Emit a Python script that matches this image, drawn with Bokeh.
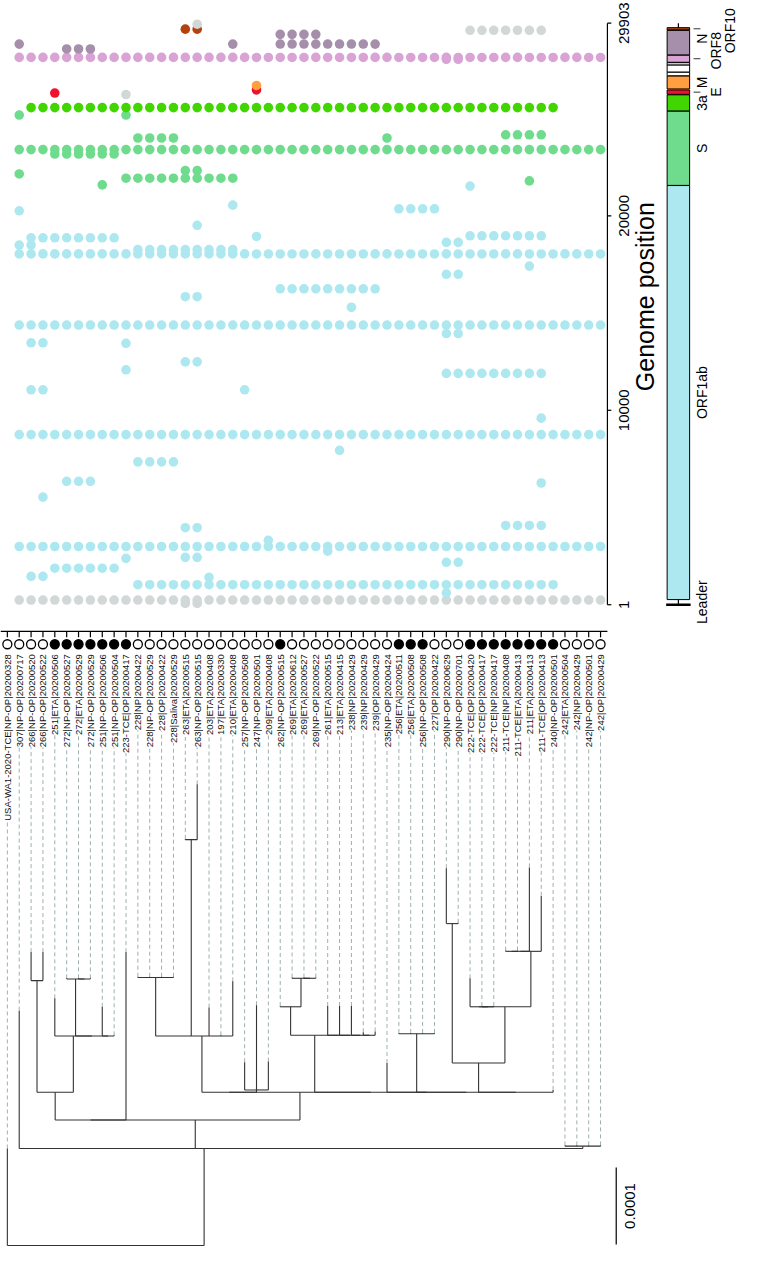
import math
from bokeh.plotting import figure
from bokeh.models import Range1d
from bokeh.embed import file_html
from bokeh.resources import INLINE
from bokeh.core.properties import value

# ---------------- data ----------------
TIP_LABELS = [
    "USA-WA1-2020-TCE|NP-OP|20200328", "307|NP-OP|20200717", "266|NP-OP|20200520", "266|NP-OP|20200522",
    "251|ETA|20200506", "272|NP-OP|20200527", "272|ETA|20200529", "272|NP-OP|20200529", "251|NP-OP|20200506",
    "251|NP-OP|20200504", "223-TCE|OP|20200417", "228|NP|20200422", "228|NP-OP|20200529", "228|OP|20200422",
    "228|Saliva|20200529", "263|ETA|20200515", "263|NP-OP|20200515", "203|ETA|20200408", "197|ETA|20200330",
    "210|ETA|20200408", "257|NP-OP|20200508", "247|NP-OP|20200501", "209|ETA|20200408", "262|NP-OP|20200515",
    "269|ETA|20200612", "269|ETA|20200527", "269|NP-OP|20200522", "261|ETA|20200515", "213|ETA|20200415",
    "238|NP|20200429", "239|NP|20200429", "239|OP|20200429", "235|NP-OP|20200424", "256|ETA|20200511",
    "256|ETA|20200508", "256|NP-OP|20200508", "227|OP|20200422", "290|NP-OP|20200629", "290|NP-OP|20200701",
    "222-TCE|OP|20200420", "222-TCE|OP|20200417", "222-TCE|NP|20200417", "211-TCE|NP|20200408",
    "211-TCE|ETA|20200413", "211|ETA|20200413", "211-TCE|OP|20200413", "240|NP-OP|20200501",
    "242|ETA|20200504", "242|NP|20200429", "242|NP-OP|20200501", "242|OP|20200429"]
TIP_FILLED = [0, 0, 0, 0, 1, 1, 1, 1, 1, 1, 1, 0, 0, 0, 0, 0, 0, 0, 0, 0, 0, 0, 0, 1, 0, 0,
              0, 0, 0, 0, 0, 0, 0, 1, 1, 1, 0, 0, 0, 1, 1, 1, 1, 1, 1, 1, 1, 0, 0, 0, 0]

# tree (Newick pieces), branch lengths in 1e-6 substitutions/site, tips named t<index>
CLADE_G = "(t4:49,((t5:1,(t6:1,t7:1):0):74,(t8:38,t9:1):0):0)"
CLADE_D = "((t2:37,t3:37):145," + CLADE_G + ":73)"
CLADE_E = "((t11:1,t12:1,t13:1,t14:1):76,(t15:1,t16:72):255,t17:37,t18:1,t19:71)"
CLADE_K = "(t20:36,t21:110,t22:37)"
CLADE_M = "(t23:1,(t24:1,(t25:1,t26:1):0):37)"
CLADE_L = "(" + CLADE_M + ":37,(t27:38,(t28:38,(t29:38,(t30:4,t31:5):0):0):0):0)"
CLADE_Q = "(t33:1,t34:1,t35:1,t36:1)"
CLADE_V = "(((t42:1,t43:1):0,t44:109):0,t45:72)"
CLADE_U = "((t39:37,(t40:1,t41:1):0):0," + CLADE_V + ":72)"
CLADE_S = "((t37:72,t38:1):181," + CLADE_U + ":73)"
CLADE_C = ("((" + CLADE_E + ":73," + CLADE_K + ":3):0,(" + CLADE_L + ":74,(t32:38,(" + CLADE_Q +
           ":76,(" + CLADE_S + ":38,t46:3):0):0):0):0)")
CLADE_A = "((" + CLADE_D + ":36,t10:218):0," + CLADE_C + ":36)"
CLADE_F = "(t47:1,t48:1,t49:1,t50:1)"
CLADE_B = "(t1:179,(" + CLADE_A + ":37," + CLADE_F + ":3):0)"
TREE_NEWICK = "(t0:126," + CLADE_B + ":126);"
SCALE_BAR = 100          # 1e-6 units -> 0.0001
SCALE_LABEL = "0.0001"

GENE_NAMES = ["ORF1ab", "S", "3a", "E", "M", "ORF6", "ORF7a", "ORF7b", "ORF8", "N", "ORF10"]
GENE_START = [266, 21563, 25393, 26245, 26523, 27202, 27394, 27756, 27894, 28274, 29558]
GENE_END = [21555, 25384, 26220, 26472, 27191, 27387, 27759, 27887, 28259, 29533, 29674]
GENE_COLORS = ["#ade8f0", "#6edc8c", "#42d600", "#f0112d", "#ff9f3f", "#ffffff", "#ffffff",
               "#c8c8c8", "#d9a3d6", "#a58fab", "#b3420f"]
NONCODING_COLOR = "#d2d8d8"
GENOME_LEN = 29903
GENOME_TICKS = [1, 10000, 20000, 29903]

ALL = list(range(1, 51))
MUT_POS = [29852, 29598, 29540, 29329, 28830, 28580, 28144, 28050, 26704, 26470, 26313, 26235,
           25563, 25180, 24166, 24000, 23403, 23176, 22323, 22151, 21932, 21795, 21592, 21526,
           20547, 20359, 20257, 19511, 18972, 18937, 18870, 18633, 18497, 18262, 18040, 17414,
           16993, 16246, 15840, 15298, 14384, 13947, 13470, 13438, 12489, 12083, 11896, 11052,
           9596, 8749, 7937, 7348, 6347, 6261, 5535, 4078, 3961, 3316, 2996, 2758, 2438, 2387,
           2184, 1879, 1458, 1407, 1032, 610, 241, 67]
MUT_TIPS = [
    [16], [15, 16], [39, 40, 41, 42, 43, 44, 45], [23, 24, 25, 26],
    [1, 19, 23, 24, 25, 26, 27, 28, 29, 30, 31], [5, 6, 7], ALL, [37, 38], [21], [21], [4], [10],
    list(range(2, 47)), [1, 10], [42, 43, 44, 45], [11, 12, 13, 14, 32], ALL, [4, 5, 6, 7, 8, 9],
    [15, 16], [1], list(range(10, 20)), [44], [8], [39],
    [19], [33, 34, 35, 36], [1], [16], [39, 40, 41, 42, 43, 44, 45], [21], [2, 3, 4, 5, 6, 7, 8, 9],
    [37, 38], [1, 2], list(range(11, 20)), ALL, [44],
    [37, 38], list(range(23, 32)), [15, 16], [29], ALL, [37, 38], [2, 3], [10], [15, 16], [10],
    list(range(37, 46)), [2, 3, 20],
    [45], ALL, [28], [11, 12, 13, 14], [5, 6, 7], [45], [3], [42, 43, 44, 45], [15, 16], [22], ALL,
    [27], [15, 16], [10],
    [37, 38], [4, 5, 6, 7, 8, 9], [2, 3], [17], list(range(11, 47)), [37], ALL, [15, 16]]

# ---------------- layout constants (reference pixel frame) ----------------
W, H = 742, 1246
REF_W, REF_H = 758, 1262
TIP0, TIP_STEP = 7.0, 12.12
G_Y1, G_YTOP = 612.0, 23.0
ROOT_Y, PX_PER_UNIT = 1261.0, 0.78
FONT = value("Liberation Sans")


def g_at(ref_y):
    return 1 + (G_Y1 - ref_y) * (GENOME_LEN - 1) / (G_Y1 - G_YTOP)


def d_at(ref_y):
    return (ROOT_Y - ref_y) / PX_PER_UNIT


def gene_color(pos):
    for s, e, c in zip(GENE_START, GENE_END, GENE_COLORS):
        if s <= pos <= e:
            return c
    return NONCODING_COLOR


# ---------------- tree parsing / layout ----------------
def parse_newick(s):
    pos = 0

    def node():
        nonlocal pos
        n = {"children": [], "name": "", "len": 0.0}
        if s[pos] == "(":
            pos += 1
            while True:
                n["children"].append(node())
                if s[pos] == ",":
                    pos += 1
                elif s[pos] == ")":
                    pos += 1
                    break
                else:
                    raise ValueError("bad newick at %d" % pos)
        start = pos
        while pos < len(s) and s[pos] not in ",();":
            pos += 1
        tok = s[start:pos]
        if ":" in tok:
            nm, ln = tok.split(":")
            n["name"], n["len"] = nm, float(ln)
        else:
            n["name"] = tok
        return n

    return node()


root = parse_newick(TREE_NEWICK)
root["len"] = 0.0


def layout(n, depth):
    n["depth"] = depth + n["len"]
    if n["children"]:
        for c in n["children"]:
            layout(c, n["depth"])
        n["x"] = sum(c["x"] for c in n["children"]) / len(n["children"])
    else:
        n["x"] = float(n["name"][1:])


layout(root, 0.0)
tip_depth = {}
vx, vy0, vy1 = [], [], []
hx0, hx1, hy = [], [], []


def collect(n, parent_depth):
    if parent_depth is not None and n["len"] > 0:
        vx.append(n["x"]); vy0.append(parent_depth); vy1.append(n["depth"])
    if n["children"]:
        xs = [c["x"] for c in n["children"]]
        hx0.append(min(xs)); hx1.append(max(xs)); hy.append(n["depth"])
        for c in n["children"]:
            collect(c, n["depth"])
    else:
        tip_depth[int(n["name"][1:])] = n["depth"]


collect(root, None)

# ---------------- figure ----------------
p = figure(width=W, height=H, output_backend="svg", toolbar_location=None,
           x_range=Range1d((0 - TIP0) / TIP_STEP, (REF_W - TIP0) / TIP_STEP),
           y_range=Range1d(g_at(REF_H), g_at(0)),
           x_axis_location=None, y_axis_location=None, min_border=0,
           outline_line_color=None, background_fill_color="white", border_fill_color="white")
p.grid.visible = False
p.extra_y_ranges = {"tree": Range1d(d_at(REF_H), d_at(0)), "py": Range1d(REF_H, 0)}
p.extra_x_ranges = {"px": Range1d(0, REF_W)}

# mutation dots (drawn in increasing genome position)
rows = sorted(zip(MUT_POS, MUT_TIPS), key=lambda r: r[0])
mx, my, mc = [], [], []
for pos, tips in rows:
    for t in tips:
        mx.append(t); my.append(pos); mc.append(gene_color(pos))
p.scatter(x=mx, y=my, size=9.6, fill_color=mc, line_color=None)

# genome axis (right of dot panel)
AX_X = 620
nt = len(GENOME_TICKS)
p.segment(x0=[AX_X], x1=[AX_X], y0=[GENOME_TICKS[0]], y1=[GENOME_TICKS[-1]],
          x_range_name="px", line_color="black", line_width=1.2)
p.segment(x0=[AX_X] * nt, x1=[AX_X + 4] * nt, y0=GENOME_TICKS, y1=GENOME_TICKS,
          x_range_name="px", line_color="black", line_width=1.2)
p.text(x=[AX_X + 17] * nt, y=GENOME_TICKS, text=[str(t) for t in GENOME_TICKS], angle=math.pi / 2,
       x_range_name="px", text_align="center", text_baseline="middle", text_font=FONT,
       text_font_size="15px", text_color="black")
p.text(x=[AX_X + 38], y=[g_at(300)], text=["Genome position"], angle=math.pi / 2, x_range_name="px",
       text_align="center", text_baseline="middle", text_font=FONT, text_font_size="25px",
       text_color="black")

# genome map
MAP_X0, MAP_X1 = 681, 704
MAP_XC = (MAP_X0 + MAP_X1) / 2
ng = len(GENE_NAMES)
p.quad(left=[MAP_X0] * ng, right=[MAP_X1] * ng, bottom=GENE_START, top=GENE_END,
       fill_color=GENE_COLORS, line_color="black", line_width=1, x_range_name="px")
p.segment(x0=[MAP_XC, MAP_XC], x1=[MAP_XC, MAP_XC], y0=[1, GENE_END[-1]], y1=[GENE_START[0], GENOME_LEN],
          x_range_name="px", line_color="black", line_width=1.2)
p.segment(x0=[MAP_X0 - 1], x1=[MAP_X1 + 1], y0=[1], y1=[1], x_range_name="px",
          line_color="black", line_width=2.5)
LABEL_COL = {"ORF1ab": 717, "S": 717, "3a": 717, "M": 717, "N": 717, "E": 731, "ORF8": 731, "ORF10": 745}
LABEL_SHIFT = {"ORF10": 2, "ORF8": -8, "N": -4}
for nm, s, e in zip(GENE_NAMES, GENE_START, GENE_END):
    if nm in LABEL_COL:
        p.text(x=[LABEL_COL[nm]], y=[(s + e) / 2], text=[nm], angle=math.pi / 2, x_range_name="px",
               y_offset=LABEL_SHIFT.get(nm, 0), text_align="center", text_baseline="middle",
               text_font=FONT, text_font_size="14px", text_color="black")
p.text(x=[717], y=[GENE_START[0] / 2], text=["Leader"], angle=math.pi / 2, x_range_name="px",
       text_align="center", text_baseline="middle", text_font=FONT, text_font_size="14px", text_color="black")
conn_y = [(s + e) / 2 for nm, s, e in zip(GENE_NAMES, GENE_START, GENE_END) if LABEL_COL.get(nm, 717) > 717]
p.segment(x0=[MAP_X1 + 4] * len(conn_y), x1=[MAP_X1 + 11] * len(conn_y), y0=conn_y, y1=conn_y,
          x_range_name="px", line_color="#333333", line_width=1)

# tip axis line, ticks, status circles, labels
tip_idx = list(range(len(TIP_LABELS)))
ntip = len(tip_idx)
p.segment(x0=[0], x1=[620], y0=[639], y1=[639], x_range_name="px", y_range_name="py",
          line_color="black", line_width=1.2)
p.segment(x0=tip_idx, x1=tip_idx, y0=[639] * ntip, y1=[645] * ntip,
          y_range_name="py", line_color="black", line_width=1.2)
p.scatter(x=tip_idx, y=[652] * ntip, size=9, y_range_name="py",
          fill_color=["black" if f else "white" for f in TIP_FILLED], line_color="black", line_width=1.3)

# dashed connectors from tips to labels
p.segment(x0=tip_idx, x1=tip_idx, y0=[tip_depth[i] for i in tip_idx], y1=[d_at(664)] * ntip,
          y_range_name="tree", line_color="#9fb0b0", line_dash="4 3", line_width=1)
p.text(x=tip_idx, y=[662] * ntip, text=TIP_LABELS, angle=math.pi / 2, y_range_name="py",
       text_align="right", text_baseline="middle", text_font=FONT, text_font_size="9.5px",
       text_color="#111111", background_fill_color="white")

# tree
p.segment(x0=vx, x1=vx, y0=vy0, y1=vy1, y_range_name="tree", line_color="#333333", line_width=1.1)
p.segment(x0=hx0, x1=hx1, y0=hy, y1=hy, y_range_name="tree", line_color="#333333", line_width=1.1)

# scale bar
p.segment(x0=[629], x1=[629], y0=[d_at(1260)], y1=[d_at(1260) + SCALE_BAR], x_range_name="px",
          y_range_name="tree", line_color="black", line_width=1.2)
p.text(x=[643], y=[d_at(1260) + SCALE_BAR / 2], text=[SCALE_LABEL], angle=math.pi / 2, x_range_name="px",
       y_range_name="tree", text_align="center", text_baseline="middle", text_font=FONT,
       text_font_size="15px", text_color="black")

open("out.html", "w").write(file_html(p, INLINE))
